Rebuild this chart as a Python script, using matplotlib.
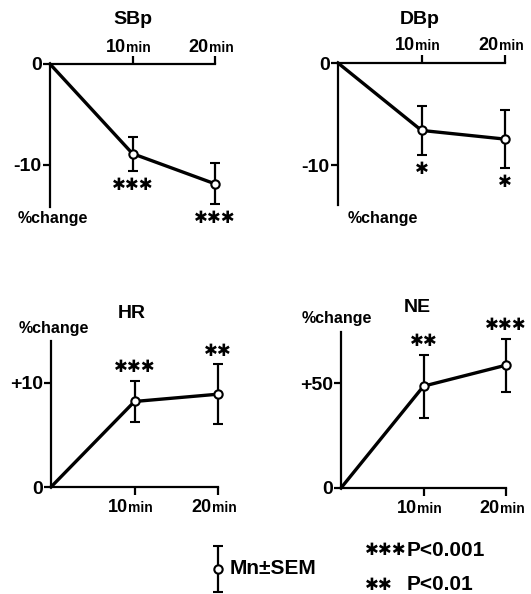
import matplotlib
matplotlib.use('Agg')
import matplotlib.pyplot as plt

plt.rcParams['font.family'] = ['Liberation Sans', 'DejaVu Sans']
plt.rcParams['font.weight'] = 'bold'

# data (% change from baseline)
times = [0, 10, 20]
sbp_mean = [0, -8.9, -11.9]
sbp_sem = [0, 1.7, 2.05]
sbp_stars = ['***', '***']
dbp_mean = [0, -6.6, -7.45]
dbp_sem = [0, 2.4, 2.85]
dbp_stars = ['*', '*']
hr_mean = [0, 8.2, 8.9]
hr_sem = [0, 1.95, 2.85]
hr_stars = ['***', '**']
ne_mean = [0, 48.5, 58.5]
ne_sem = [0, 15.0, 12.7]
ne_stars = ['**', '***']

W, H = 531, 594
fig = plt.figure(figsize=(W / 100, H / 100), dpi=100)


def box(l, r, t, b):
    return [l / W, 1 - b / H, (r - l) / W, (b - t) / H]


def ftext(x, y, s, **kw):
    fig.text(x / W, 1 - y / H, s, **kw)


def stars_txt(s):
    # heavy asterisk glyph, closer to the printed stars
    return s.replace('*', '\u2731')


def panel(pos, mean, sem, stars, ylim, yticks, ylabels, top):
    ax = fig.add_axes(box(*pos))
    ax.plot(times, mean, color='black', lw=2.4, zorder=2, clip_on=False)
    ax.errorbar(times[1:], mean[1:], yerr=sem[1:], fmt='o', mfc='white',
                mec='black', mew=1.5, ms=6, ecolor='black', elinewidth=1.6,
                capsize=3.3, capthick=1.6, zorder=3, clip_on=False)
    ax.set_xlim(0, 20)
    ax.set_ylim(*ylim)
    ax.spines['right'].set_visible(False)
    ax.spines['bottom' if top else 'top'].set_visible(False)
    for s in ['left', 'top', 'bottom']:
        ax.spines[s].set_linewidth(1.6)
    ax.set_xticks([10, 20])
    ax.set_xticklabels([])
    if top:
        ax.xaxis.tick_top()
    ax.tick_params(axis='x', direction='out', length=6, width=1.6)
    ax.set_yticks(yticks)
    ax.set_yticklabels(ylabels, fontsize=14, fontweight='bold')
    ax.tick_params(axis='y', direction='out', length=5, width=1.6, pad=1)

    for t, m, e, s in zip(times[1:], mean[1:], sem[1:], stars):
        end = m - e if top else m + e
        ax.annotate(stars_txt(s), (t, end), xytext=(0, -10 if top else 10),
                    textcoords='offset points', ha='center', va='center',
                    fontsize=12, family='DejaVu Sans', fontweight='bold',
                    annotation_clip=False)

    for t in [10, 20]:
        yf = 1 if top else 0
        dy = 9 if top else -18
        ax.annotate(f'{t}', (t, yf), xycoords=('data', 'axes fraction'),
                    xytext=(-4.5, dy), textcoords='offset points',
                    ha='right', va='baseline', fontsize=13,
                    annotation_clip=False)
        ax.annotate('min', (t, yf), xycoords=('data', 'axes fraction'),
                    xytext=(-4.5, dy), textcoords='offset points',
                    ha='left', va='baseline', fontsize=10,
                    annotation_clip=False)
    return ax


panel((50, 215, 64, 207), sbp_mean, sbp_sem, sbp_stars, (-14.2, 0),
      [0, -10], ['0', '-10'], True)
panel((338, 505, 63, 205), dbp_mean, dbp_sem, dbp_stars, (-13.9, 0),
      [0, -10], ['0', '-10'], True)
panel((51, 218, 341, 487), hr_mean, hr_sem, hr_stars, (0, 14.0),
      [0, 10], ['0', '+10'], False)
panel((341, 506, 332, 488), ne_mean, ne_sem, ne_stars, (0, 74.3),
      [0, 50], ['0', '+50'], False)

ftext(133, 20, 'SBp', ha='center', va='center', fontsize=14)
ftext(420, 20, 'DBp', ha='center', va='center', fontsize=14)
ftext(132, 313, 'HR', ha='center', va='center', fontsize=14)
ftext(417, 307, 'NE', ha='center', va='center', fontsize=14)

ftext(53, 218, '%change', ha='center', va='center', fontsize=11.5)
ftext(383, 218, '%change', ha='center', va='center', fontsize=11.5)
ftext(54, 328, '%change', ha='center', va='center', fontsize=11.5)
ftext(337, 318, '%change', ha='center', va='center', fontsize=11.5)

# legend
lax = fig.add_axes(box(208, 228, 544, 594))
lax.errorbar([0], [0], yerr=[1], fmt='o', mfc='white', mec='black', mew=1.5,
             ms=6, ecolor='black', elinewidth=1.6, capsize=3.3, capthick=1.6)
lax.set_xlim(-1, 1)
lax.set_ylim(-1.08, 1.08)
lax.axis('off')
ftext(230, 569, 'Mn\u00b1SEM', ha='left', va='center', fontsize=15)
ftext(365, 550, stars_txt('***'), ha='left', va='center', fontsize=12,
      family='DejaVu Sans')
ftext(407, 550, 'P<0.001', ha='left', va='center', fontsize=15)
ftext(365, 585, stars_txt('**'), ha='left', va='center', fontsize=12,
      family='DejaVu Sans')
ftext(407, 585, 'P<0.01', ha='left', va='center', fontsize=15)

fig.savefig('out.png', dpi=100)
